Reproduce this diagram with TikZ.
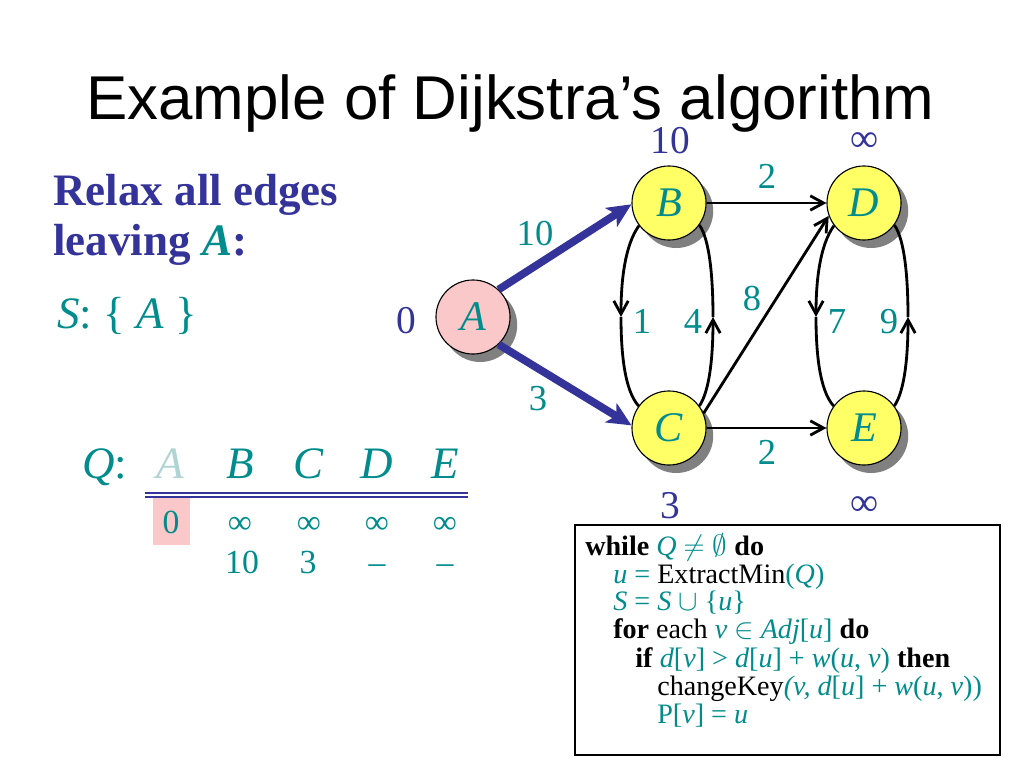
\documentclass[tikz,border=0pt]{standalone}
\usepackage{fontspec}
\setmainfont{Liberation Serif}
\newfontfamily\titlefont{Liberation Sans}
\usetikzlibrary{arrows.meta,shadows}
\definecolor{qteal}{RGB}{0,140,140}
\definecolor{qblue}{RGB}{51,51,153}
\definecolor{qfaded}{RGB}{175,212,212}
\definecolor{qpink}{RGB}{250,200,200}
\definecolor{qyellow}{RGB}{255,255,102}

\begin{document}
\begin{tikzpicture}[x=0.025cm, y=-0.025cm,
	vertex/.style={circle, draw, line width=0.8pt, fill=qyellow, minimum size=1.85cm, inner sep=0pt,
		text=qteal, font=\fontsize{30}{32}\selectfont\itshape,
		drop shadow={shadow xshift=0.18cm, shadow yshift=-0.2cm, fill=gray, opacity=1}},
	source/.style={vertex, fill=qpink},
	weight/.style={text=qteal, font=\fontsize{26}{28}\selectfont, anchor=base},
	dist/.style={text=qblue, font=\fontsize{28}{30}\selectfont, anchor=base},
	link/.style={line width=2pt},
	edge/.style={link, -{Straight Barb[length=3.3mm, width=3.6mm]}},
	relaxed/.style={draw=qblue, line width=5.5pt, -{Stealth[length=6mm, width=5.5mm, inset=1.5mm]}},
	qcell/.style={text=qteal, font=\fontsize{24}{26}\selectfont, anchor=base},
	qhead/.style={text=qteal, font=\fontsize{32}{36}\selectfont\itshape, anchor=base},
	code/.style={anchor=base west, inner sep=0pt, font=\fontsize{20}{22}\selectfont}]
	\useasboundingbox (0,0) rectangle (1024,768);

	% title and left text
	\node[anchor=base west, inner sep=0pt, font=\titlefont\fontsize{44}{48}\selectfont] (title) at (86,120) {Example of Dijkstra’s algorithm};
	\node[anchor=base west, inner sep=0pt, text=qblue, font=\fontsize{32}{36}\selectfont\bfseries] (relax) at (53,205) {Relax all edges};
	\node[anchor=base west, inner sep=0pt, text=qblue, font=\fontsize{32}{36}\selectfont\bfseries] (leaving) at (53,255) {leaving \textcolor{qteal}{\textit{A}}:};
	\node[anchor=base west, inner sep=0pt, text=qteal, font=\fontsize{32}{36}\selectfont] (set) at (57,328) {\textit{S}: \{ \textit{A} \}};

	% graph
	\node[source] (A) at (473,317) {A};
	\node[vertex] (B) at (669,203) {B};
	\node[vertex] (C) at (669,428) {C};
	\node[vertex] (D) at (864,203) {D};
	\node[vertex] (E) at (864,428) {E};

	\node[dist] (dA) at (406,333) {0};
	\node[dist] (dB) at (670,153) {10};
	\node[dist] (dC) at (670,518) {3};
	\node[dist] (dD) at (865,152) {∞};
	\node[dist] (dE) at (865,515) {∞};

	\draw[relaxed] (A.47) -- (B.182);
	\draw[relaxed] (A.-47) -- (C.176);
	\draw[edge] (B) -- (D);
	\draw[edge] (C) -- (E);
	\draw[edge] (C.23) -- (D.200);

	\coordinate (mBC) at (621,317);
	\coordinate (mCB) at (713,317);
	\coordinate (mDE) at (816,317);
	\coordinate (mED) at (908,317);
	\draw[edge] (B.217) .. controls (625,245) and (621,280) .. (mBC);
	\draw[link] (mBC) .. controls (621,350) and (624,390) .. (C.144);
	\draw[edge] (C.36) .. controls (710,390) and (713,355) .. (mCB);
	\draw[link] (mCB) .. controls (713,280) and (710,240) .. (B.324);
	\draw[edge] (D.217) .. controls (820,245) and (816,280) .. (mDE);
	\draw[link] (mDE) .. controls (816,350) and (819,390) .. (E.144);
	\draw[edge] (E.36) .. controls (905,390) and (908,355) .. (mED);
	\draw[link] (mED) .. controls (908,280) and (905,240) .. (D.324);

	\node[weight] (wAB) at (535,245) {10};
	\node[weight] (wAC) at (538,410) {3};
	\node[weight] (wBD) at (767,189) {2};
	\node[weight] (wCE) at (767,464) {2};
	\node[weight] (wCD) at (752,310) {8};
	\node[weight] (wBC) at (642,333) {1};
	\node[weight] (wCB) at (693,333) {4};
	\node[weight] (wDE) at (837,333) {7};
	\node[weight] (wED) at (889,333) {9};

	% queue table
	\node[qhead] (qlabel) at (105,478) {Q\upshape:};
	\node[qhead, text=qfaded] (qA) at (170,478) {A};
	\foreach \x/\n in {240/B, 309/C, 377/D, 445/E}
		\node[qhead] (q\n) at (\x,478) {\n};
	\draw[qblue, line width=1pt, double, double distance=1.8pt] (145,495) -- (468,495);
	\fill[qpink] (153,498) rectangle (190,545);
	\foreach \x/\v [count=\i] in {171/0, 240/∞, 309/∞, 377/∞, 445/∞}
		\node[qcell] (first\i) at (\x,533) {\v};
	\foreach \x/\v [count=\i] in {242/10, 308/3, 377/–, 445/–}
		\node[qcell] (second\i) at (\x,573) {\v};

	% pseudocode
	\draw[line width=2pt] (575,525) rectangle (1000,755);
	\node[code] (code1) at (585,555) {\textbf{while} \textcolor{qteal}{\textit{Q} $\neq\emptyset$} \textbf{do}};
	\node[code] (code2) at (613,583) {\textcolor{qteal}{\textit{u} =} ExtractMin\textcolor{qteal}{(\textit{Q})}};
	\node[code] (code3) at (613,610) {\textcolor{qteal}{\textit{S} = \textit{S} $\cup$ \{\textit{u}\}}};
	\node[code] (code4) at (613,638) {\textbf{for} each \textcolor{qteal}{\textit{v} $\in$ \textit{Adj}[\textit{u}]} \textbf{do}};
	\node[code] (code5) at (635,667) {\textbf{if} \textcolor{qteal}{\textit{d}[\textit{v}] > \textit{d}[\textit{u}] + \textit{w}(\textit{u}, \textit{v})} \textbf{then}};
	\node[code] (code6) at (657,695) {changeKey\textcolor{qteal}{\textit{(v,} \textit{d}[\textit{u}] + \textit{w}(\textit{u}, \textit{v}))}};
	\node[code] (code7) at (657,723) {\textcolor{qteal}{P[\textit{v}] = \textit{u}}};
\end{tikzpicture}
\end{document}
